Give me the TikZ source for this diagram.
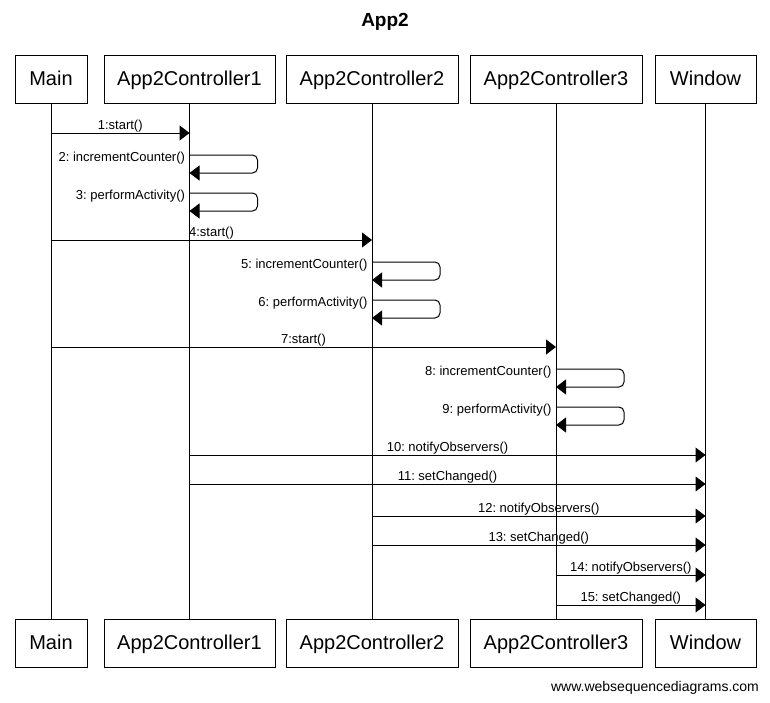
\documentclass[tikz,border=0pt]{standalone}
\usepackage{fontspec}
\setmainfont{Liberation Sans}
\usetikzlibrary{arrows.meta}
\frenchspacing
\begin{document}
\begin{tikzpicture}[x=1pt,y=-1pt,line width=1pt,
  actor/.style={draw,minimum height=48pt,inner sep=0pt,text height=16pt,text depth=4pt,font=\fontsize{20}{22}\selectfont},
  msg/.style={-{Triangle[length=10pt,width=15pt]}},
  lbl/.style={font=\fontsize{13}{14}\selectfont,anchor=base,inner sep=0pt,midway,yshift=3.5pt},
  slbl/.style={font=\fontsize{13}{14}\selectfont,anchor=base east,inner sep=0pt},
  selfmsg/.style={msg,rounded corners=5pt}]
\useasboundingbox (0,0) rectangle (770,702);
\node[font=\bfseries\fontsize{19}{21}\selectfont] (title) at (385,22) {App2};
% top actors
\node[actor,minimum width=72pt] (mainT) at (51,79) {Main};
\node[actor,minimum width=171pt] (c1T) at (189.5,79) {App2Controller1};
\node[actor,minimum width=172pt] (c2T) at (372,79) {App2Controller2};
\node[actor,minimum width=172pt] (c3T) at (556,79) {App2Controller3};
\node[actor,minimum width=101pt] (winT) at (705.5,79) {Window};
% bottom actors
\node[actor,minimum width=72pt] (mainB) at (51,643.5) {Main};
\node[actor,minimum width=171pt] (c1B) at (189.5,643.5) {App2Controller1};
\node[actor,minimum width=172pt] (c2B) at (372,643.5) {App2Controller2};
\node[actor,minimum width=172pt] (c3B) at (556,643.5) {App2Controller3};
\node[actor,minimum width=101pt] (winB) at (705.5,643.5) {Window};
% lifelines
\draw (mainT.south) -- (mainB.north);
\draw (c1T.south) -- (c1B.north);
\draw (c2T.south) -- (c2B.north);
\draw (c3T.south) -- (c3B.north);
\draw (winT.south) -- (winB.north);
% y levels
\coordinate (y1) at (0,133);
\coordinate (y2) at (0,155);
\coordinate (y3) at (0,193);
\coordinate (y4) at (0,240);
\coordinate (y5) at (0,262);
\coordinate (y6) at (0,300);
\coordinate (y7) at (0,347);
\coordinate (y8) at (0,369);
\coordinate (y9) at (0,407);
\coordinate (y10) at (0,455);
\coordinate (y11) at (0,484);
\coordinate (y12) at (0,516);
\coordinate (y13) at (0,545);
\coordinate (y14) at (0,575);
\coordinate (y15) at (0,605);
% messages
\draw[msg] (mainT |- y1) -- node[lbl] (l1) {1:start()} (c1T |- y1);
\draw[selfmsg] (c1T |- y2) -- ++(68,0) -- ++(0,18) -- ++(-68,0);
\node[slbl] (l2) at ([xshift=-4pt,yshift=-6pt]c1T |- y2) {2: incrementCounter()};
\draw[selfmsg] (c1T |- y3) -- ++(68,0) -- ++(0,18) -- ++(-68,0);
\node[slbl] (l3) at ([xshift=-4pt,yshift=-6pt]c1T |- y3) {3: performActivity()};
\draw[msg] (mainT |- y4) -- node[lbl] (l4) {4:start()} (c2T |- y4);
\draw[selfmsg] (c2T |- y5) -- ++(68,0) -- ++(0,18) -- ++(-68,0);
\node[slbl] (l5) at ([xshift=-4pt,yshift=-6pt]c2T |- y5) {5: incrementCounter()};
\draw[selfmsg] (c2T |- y6) -- ++(68,0) -- ++(0,18) -- ++(-68,0);
\node[slbl] (l6) at ([xshift=-4pt,yshift=-6pt]c2T |- y6) {6: performActivity()};
\draw[msg] (mainT |- y7) -- node[lbl] (l7) {7:start()} (c3T |- y7);
\draw[selfmsg] (c3T |- y8) -- ++(68,0) -- ++(0,18) -- ++(-68,0);
\node[slbl] (l8) at ([xshift=-4pt,yshift=-6pt]c3T |- y8) {8: incrementCounter()};
\draw[selfmsg] (c3T |- y9) -- ++(68,0) -- ++(0,18) -- ++(-68,0);
\node[slbl] (l9) at ([xshift=-4pt,yshift=-6pt]c3T |- y9) {9: performActivity()};
\draw[msg] (c1T |- y10) -- node[lbl] (l10) {10: notifyObservers()} (winT |- y10);
\draw[msg] (c1T |- y11) -- node[lbl] (l11) {11: setChanged()} (winT |- y11);
\draw[msg] (c2T |- y12) -- node[lbl] (l12) {12: notifyObservers()} (winT |- y12);
\draw[msg] (c2T |- y13) -- node[lbl] (l13) {13: setChanged()} (winT |- y13);
\draw[msg] (c3T |- y14) -- node[lbl] (l14) {14: notifyObservers()} (winT |- y14);
\draw[msg] (c3T |- y15) -- node[lbl] (l15) {15: setChanged()} (winT |- y15);
\node[font=\fontsize{14}{16}\selectfont] (footer) at (655,688) {www.websequencediagrams.com};
\end{tikzpicture}
\end{document}
